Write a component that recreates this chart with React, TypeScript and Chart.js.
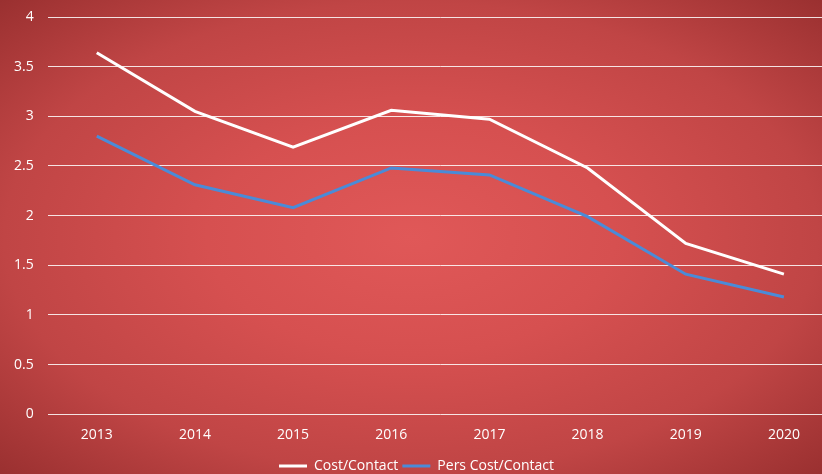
import React, { useEffect, useRef } from "react";
import { Chart, registerables } from "chart.js";

Chart.register(...registerables);

const years = ["2013", "2014", "2015", "2016", "2017", "2018", "2019", "2020"];
const costPerContact = [3.64, 3.05, 2.69, 3.06, 2.97, 2.48, 1.72, 1.41];
const persCostPerContact = [2.8, 2.31, 2.08, 2.48, 2.41, 1.99, 1.41, 1.18];
const seriesNames = ["Cost/Contact", "Pers Cost/Contact"];

const FONT = "'Open Sans', 'DejaVu Sans', sans-serif";

export default function App() {
  const ref = useRef<HTMLCanvasElement | null>(null);

  useEffect(() => {
    if (!ref.current) return;
    const chart = new Chart(ref.current, {
      type: "line",
      data: {
        labels: years,
        datasets: [
          {
            label: seriesNames[0],
            data: costPerContact,
            borderColor: "#ffffff",
            backgroundColor: "#ffffff",
            borderWidth: 3,
            pointRadius: 0,
            tension: 0,
          },
          {
            label: seriesNames[1],
            data: persCostPerContact,
            borderColor: "#4a8bd8",
            backgroundColor: "#4a8bd8",
            borderWidth: 3,
            pointRadius: 0,
            tension: 0,
          },
        ],
      },
      options: {
        responsive: false,
        animation: false,
        layout: { padding: { left: 0, top: 17, right: 1, bottom: -9 } },
        plugins: {
          legend: {
            position: "bottom",
            labels: {
              color: "#ffffff",
              font: { family: FONT, size: 14 },
              usePointStyle: true,
              pointStyle: "line",
              pointStyleWidth: 28,
              boxWidth: 28,
              padding: 4,
            },
          },
          tooltip: { enabled: false },
        },
        scales: {
          x: {
            offset: true,
            grid: { display: false, drawTicks: false },
            border: { display: false },
            ticks: {
              color: "#ffffff",
              font: { family: FONT, size: 14 },
              padding: 12,
              maxRotation: 0,
            },
          },
          y: {
            min: 0,
            max: 4,
            afterFit: (scale: any) => {
              scale.paddingTop = 0;
            },
            grid: { color: "rgba(255,255,255,0.85)", lineWidth: 1, drawTicks: false },
            border: { display: false },
            ticks: {
              stepSize: 0.5,
              color: "#ffffff",
              font: { family: FONT, size: 14 },
              padding: 14,
              callback: (v: any) => String(Number(v)),
            },
          },
        },
      },
    });
    return () => chart.destroy();
  }, []);

  return (
    <div
      style={{
        position: "fixed",
        left: 0,
        top: 0,
        width: 822,
        height: 474,
        overflow: "hidden",
        background:
          "radial-gradient(ellipse farthest-corner at 50% 50%, #e05858 0%, #d65050 35%, #c04545 70%, #9a3030 100%)",
      }}
    >
      <canvas ref={ref} width={834} height={474} style={{ display: "block" }} />
    </div>
  );
}
